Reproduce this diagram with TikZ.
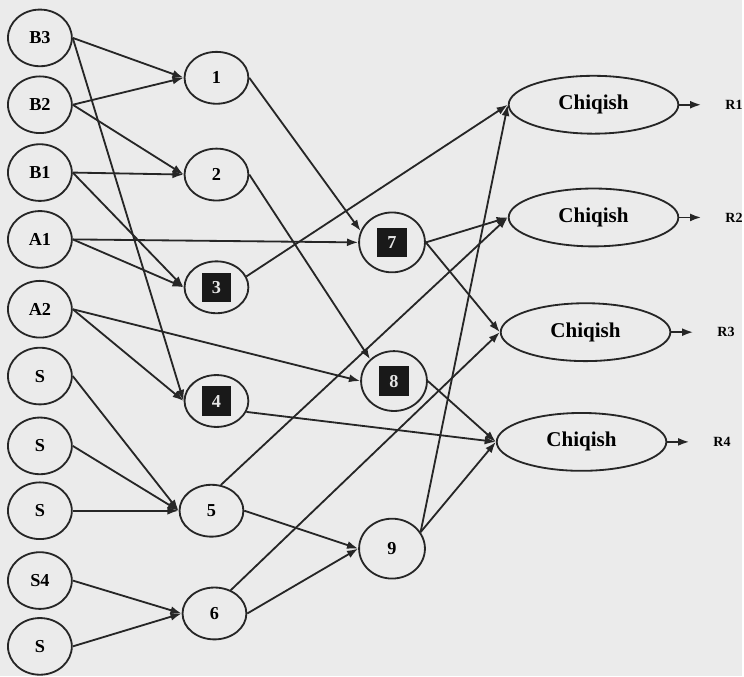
\documentclass[tikz,border=0pt]{standalone}
\usepackage{fontspec}
\setmainfont{Liberation Serif}
\usetikzlibrary{arrows.meta,positioning,shapes.geometric,calc}

\begin{document}
\begin{tikzpicture}[
  x=0.025cm, y=-0.025cm,
  font=\bfseries\fontsize{13}{15}\selectfont,
  line width=1.3pt, draw=black!85,
  srcnode/.style={draw, ellipse, minimum width=1.6cm, minimum height=1.42cm, inner sep=0pt},
  hidnode/.style={draw, ellipse, minimum width=1.6cm, minimum height=1.3cm, inner sep=0pt},
  deepnode/.style={draw, ellipse, minimum width=1.65cm, minimum height=1.5cm, inner sep=0pt},
  chq/.style={draw, ellipse, minimum width=4.25cm, minimum height=1.45cm, inner sep=0pt,
    font=\bfseries\fontsize{15}{17}\selectfont},
  blk/.style={label={[fill=black!90, text=white!90!black, minimum size=0.74cm, inner sep=0pt]center:#1}},
  rlab/.style={font=\bfseries\fontsize{10}{12}\selectfont, inner sep=1pt},
  arr/.style={draw=black!85, -{Latex[length=2.8mm, width=2mm]}},
]
  \fill[black!8] (0,0) rectangle (744,678);

  \foreach \nm/\lab/\y in {b3/B3/38, b2/B2/105, b1/B1/173, a1/A1/240, a2/A2/310,
      s1/S/377, s2/S/447, s3/S/512, s4/S4/582, s5/S/648} {
    \node[srcnode] (\nm) at (40,\y) {\lab};
  }

  \node[hidnode] (n1) at (217,78) {1};
  \node[hidnode] (n2) at (217,175) {2};
  \node[hidnode, blk=3] (n3) at (217,288) {};
  \node[hidnode, blk=4] (n4) at (217,402) {};
  \node[hidnode] (n5) at (212,512) {5};
  \node[hidnode] (n6) at (215,615) {6};

  \node[deepnode, blk=7] (n7) at (393,243) {};
  \node[deepnode, blk=8] (n8) at (395,382) {};
  \node[deepnode] (n9) at (393,550) {9};

  \node[chq] (c1) at (595,105) {Chiqish};
  \node[chq] (c2) at (595,218) {Chiqish};
  \node[chq] (c3) at (587,333) {Chiqish};
  \node[chq] (c4) at (583,443) {Chiqish};

  \foreach \i in {1,...,4} {
    \node[rlab, right=1.1cm of c\i] (r\i) {R\i};
    \draw[arr, shorten >=0.55cm] (c\i.east) -- (r\i.west);
  }

  \foreach \a/\b in {b3/n1, b2/n1, b2/n2, b1/n2, b1/n3, a1/n3, a1/n7, b3/n4, a2/n4,
      a2/n8, s1/n5, s2/n5, s3/n5, s4/n6, s5/n6, n5/n9, n6/n9, n7/c2, n7/c3, n8/c4} {
    \draw[arr] (\a.east) -- (\b.west);
  }

  \draw[arr] (n1.east) -- (n7.160);
  \draw[arr] (n2.east) -- (n8.north west);
  \draw[arr] (n3.20) -- (c1.west);
  \draw[arr] (n4.-20) -- (c4.west);
  \draw[arr] (n5.70) -- (c2.west);
  \draw[arr] (n6.55) -- (c3.west);
  \draw[arr] (n9.30) -- (c1.west);
  \draw[arr] (n9.30) -- (c4.west);
\end{tikzpicture}
\end{document}
